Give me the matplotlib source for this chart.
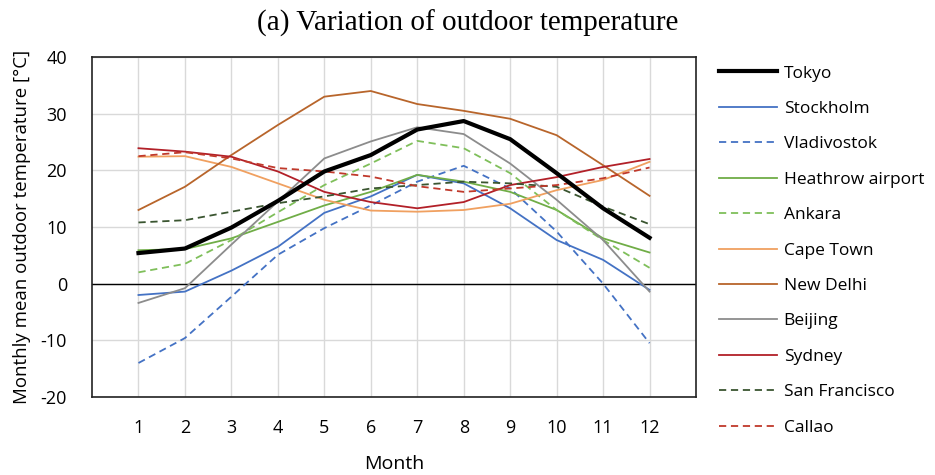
import numpy as np
import matplotlib

matplotlib.use("Agg")
import matplotlib.pyplot as plt

plt.rcParams["axes.unicode_minus"] = False

months = np.arange(1, 13)

cities = [
    "Tokyo", "Stockholm", "Vladivostok", "Heathrow airport", "Ankara",
    "Cape Town", "New Delhi", "Beijing", "Sydney", "San Francisco", "Callao",
]

tokyo = [5.4, 6.2, 9.9, 14.6, 19.8, 22.7, 27.2, 28.7, 25.5, 19.5, 13.3, 8.1]
stockholm = [-2.0, -1.4, 2.3, 6.5, 12.5, 15.4, 19.2, 17.7, 13.3, 7.7, 4.2, -1.1]
vladivostok = [-14.0, -9.6, -2.3, 5.1, 9.8, 13.8, 18.0, 20.8, 16.8, 9.2, 0.0, -10.5]
heathrow = [5.9, 6.1, 8.0, 10.9, 13.8, 16.2, 19.2, 18.0, 16.2, 13.0, 8.0, 5.5]
ankara = [2.0, 3.5, 7.7, 12.6, 17.4, 21.2, 25.2, 23.9, 19.5, 13.0, 7.7, 2.8]
cape_town = [22.4, 22.5, 20.6, 17.7, 14.8, 12.9, 12.7, 13.0, 14.1, 16.5, 18.3, 21.5]
new_delhi = [13.0, 17.1, 22.7, 28.0, 33.0, 34.0, 31.7, 30.5, 29.1, 26.2, 20.9, 15.5]
beijing = [-3.4, -0.8, 6.9, 14.5, 22.1, 25.1, 27.6, 26.4, 21.2, 14.8, 7.7, -1.4]
sydney = [23.9, 23.3, 22.4, 19.8, 16.2, 14.4, 13.3, 14.4, 17.4, 18.8, 20.6, 22.0]
san_francisco = [10.8, 11.2, 12.7, 14.2, 15.4, 16.8, 17.4, 18.0, 17.7, 17.1, 13.6, 10.5]
callao = [22.5, 23.2, 22.1, 20.4, 19.8, 18.9, 17.2, 16.2, 16.8, 17.4, 18.6, 20.5]

series = [tokyo, stockholm, vladivostok, heathrow, ankara, cape_town,
          new_delhi, beijing, sydney, san_francisco, callao]

colors = ["#000000", "#4472C4", "#4472C4", "#70AD47", "#7FBF5A", "#F0A060",
          "#B8652B", "#8C8C8C", "#B22028", "#3A5530", "#C0392B"]
dashed = [False, False, True, False, True, False, False, False, False, True, True]

ui_font = ["Open Sans", "DejaVu Sans"]

fig = plt.figure(figsize=(9.35, 4.75), dpi=100)
ax = fig.add_axes([0.0984, 0.1642, 0.646, 0.7158])

for name, vals, c, d in zip(cities, series, colors, dashed):
    lw = 3.0 if name == "Tokyo" else 1.3
    kw = dict(color=c, linewidth=lw, label=name, zorder=3 if name == "Tokyo" else 2)
    if d:
        kw["linestyle"] = (0, (4.0, 2.6))
    ax.plot(months, vals, **kw)

ax.axhline(0, color="black", linewidth=1.0, zorder=1.5)

ax.set_xlim(0, 13)
ax.set_ylim(-20, 40)
ax.set_xticks(months)
ax.set_yticks(np.arange(-20, 41, 10))
ax.grid(True, color="#D9D9D9", linewidth=1.0)
ax.set_axisbelow(True)
ax.tick_params(length=0)
ax.tick_params(axis="x", pad=16)
ax.tick_params(axis="y", pad=18)
for lab in ax.get_xticklabels() + ax.get_yticklabels():
    lab.set_fontfamily(ui_font)
    lab.set_fontsize(13)
for s in ax.spines.values():
    s.set_linewidth(1.2)
    s.set_color("#222222")

ax.set_xlabel("Month", family=ui_font, fontsize=14, labelpad=13)
ax.set_ylabel("Monthly mean outdoor temperature [°C]", family=ui_font, fontsize=13.4, labelpad=7)

fig.text(0.5, 0.95, "(a) Variation of outdoor temperature", ha="center", va="center",
         family=["Liberation Serif", "DejaVu Serif"], fontsize=21)

handles, labels = ax.get_legend_handles_labels()
fig.legend(handles, labels, loc="upper left", bbox_to_anchor=(0.762, 0.877),
           frameon=False, prop={"family": ui_font, "size": 12.5},
           handlelength=3.3, handletextpad=0.4, labelspacing=1.11, borderaxespad=0)

fig.savefig("out.png", dpi=100)
